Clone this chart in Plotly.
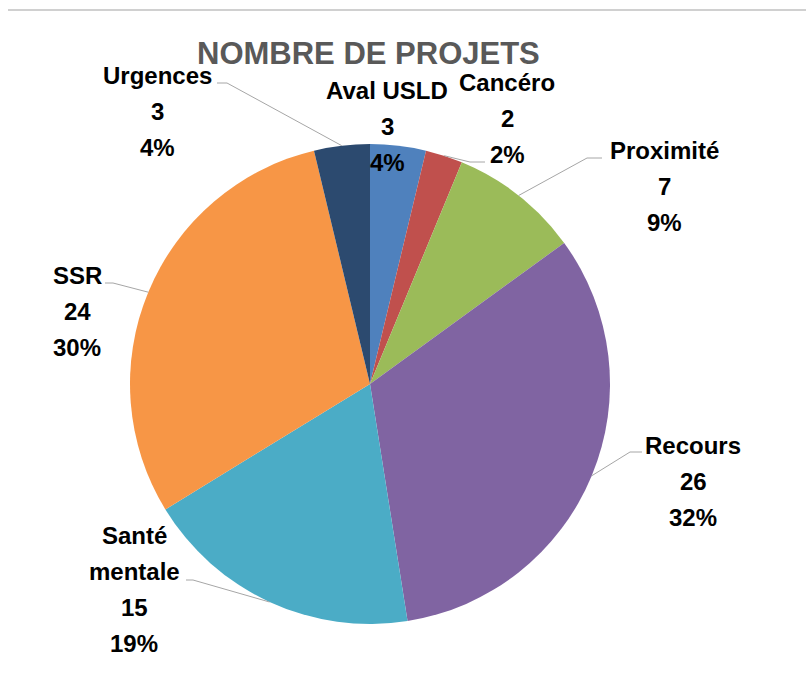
import math
import plotly.graph_objects as go

# ---- data ----
categories = ["Aval USLD", "Cancéro", "Proximité", "Recours", "Santé mentale", "SSR", "Urgences"]
values = [3, 2, 7, 26, 15, 24, 3]
title_text = "NOMBRE DE PROJETS"

# ---- style ----
colors = ["#4F81BD", "#C0504D", "#9BBB59", "#8064A2", "#4BACC6", "#F79646", "#2C4A6F"]
W, H = 806, 684
CX, CY, R = 370, 384, 240  # pie centre / radius in pixels

# label layout: (x centre, y of first line, name lines)
label_layout = {
    "Aval USLD": (387, 90, ["Aval USLD"]),
    "Cancéro": (507, 82, ["Cancéro"]),
    "Proximité": (664, 150, ["Proximité"]),
    "Recours": (693, 445, ["Recours"]),
    "Santé mentale": (134, 535, ["Santé", "mentale"]),
    "SSR": (77, 275, ["SSR"]),
    "Urgences": (157, 75, ["Urgences"]),
}
LINE_STEP = 36
# leader lines: elbow and end point (None = no leader)
leaders = {
    "Aval USLD": None,
    "Cancéro": ((470, 162), (485, 162)),
    "Proximité": ((587, 158), (602, 158)),
    "Recours": ((630, 452), (642, 452)),
    "Santé mentale": ((193, 580), (186, 580)),
    "SSR": ((113, 283), (105, 283)),
    "Urgences": ((227, 83), (217, 83)),
}

total = sum(values)
pcts = [f"{round(100 * v / total)}%" for v in values]

fig = go.Figure()
fig.add_trace(go.Pie(
    labels=categories, values=values, sort=False, direction="clockwise", rotation=0,
    marker=dict(colors=colors, line=dict(width=0)),
    textinfo="none", hoverinfo="label+value+percent", showlegend=False,
    domain=dict(x=[(CX - R) / W, (CX + R) / W], y=[(H - CY - R) / H, (H - CY + R) / H]),
))

annotations = []
shapes = []
font = dict(family="Liberation Sans, Arial, sans-serif", size=24, color="#000000")
cum = 0
for name, v, p in zip(categories, values, pcts):
    theta = 2 * math.pi * (cum + v / 2) / total
    cum += v
    ex = CX + R * math.sin(theta)
    ey = CY - R * math.cos(theta)
    lx, ly, name_lines = label_layout[name]
    lines = name_lines + [str(v), p]
    for i, t in enumerate(lines):
        annotations.append(dict(x=lx, y=ly + i * LINE_STEP, xref="x", yref="y", text=f"<b>{t}</b>",
                                showarrow=False, xanchor="center", yanchor="middle", font=font))
    ld = leaders[name]
    if ld:
        (bx, by), (tx, ty) = ld
        shapes.append(dict(type="path", xref="x", yref="y",
                           path=f"M {ex:.1f} {ey:.1f} L {bx} {by} L {tx} {ty}",
                           line=dict(color="#A6A6A6", width=1)))

annotations.append(dict(x=368, y=53, xref="x", yref="y", text=f"<b>{title_text}</b>", showarrow=False,
                        xanchor="center", yanchor="middle",
                        font=dict(family="Liberation Sans, Arial, sans-serif", size=31, color="#595959")))
shapes.append(dict(type="line", xref="x", yref="y", x0=8, x1=W, y0=10, y1=10,
                   line=dict(color="#D0D0D0", width=2)))

fig.update_layout(
    width=W, height=H, autosize=False,
    margin=dict(l=0, r=0, t=0, b=0),
    paper_bgcolor="white", plot_bgcolor="rgba(0,0,0,0)",
    xaxis=dict(range=[0, W], visible=False, fixedrange=True),
    yaxis=dict(range=[H, 0], visible=False, fixedrange=True),
    annotations=annotations, shapes=shapes,
)
fig.write_html("out.html", config={"displayModeBar": False},
               post_script="document.body.style.margin='0';document.body.style.overflow='hidden';")
